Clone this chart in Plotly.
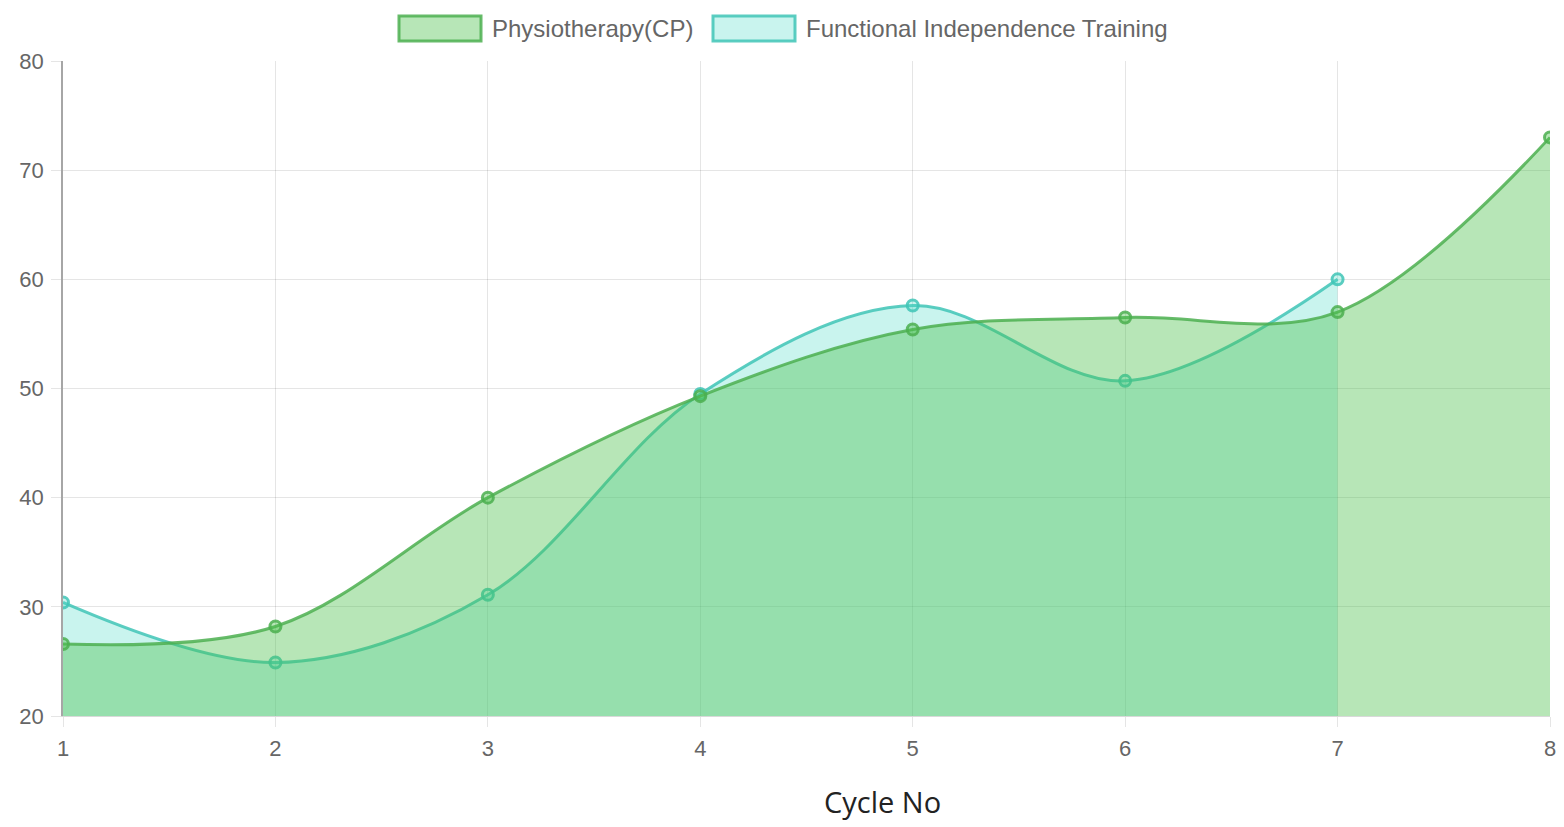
import plotly.graph_objects as go

cycles = [1, 2, 3, 4, 5, 6, 7, 8]
physio = [26.6, 28.2, 40.0, 49.3, 55.4, 56.5, 57.0, 73.0]
fit_cycles = [1, 2, 3, 4, 5, 6, 7]
fit = [30.4, 24.9, 31.1, 49.5, 57.6, 50.7, 60.0]

series_names = ["Physiotherapy(CP)", "Functional Independence Training"]
x_title = "Cycle No"

G_LINE = "rgba(76,175,80,0.85)"
G_FILL = "rgba(75,192,75,0.4)"
C_LINE = "rgba(64,196,182,0.85)"
C_FILL = "rgba(75,220,200,0.3)"

W, H = 1564, 827
# target plot area in window pixels: x 63..1550, y 61..716
PX0, PX1, PY0, PY1 = 63, 1550, 61, 716
L, R, T, B = PX0, W - PX1, PY0, H - PY1
PW, PH = W - L - R, H - T - B

fig = go.Figure()
fig.add_trace(go.Scatter(
    x=fit_cycles, y=fit, name=series_names[1], mode="lines+markers",
    line=dict(color=C_LINE, width=3, shape="spline", smoothing=1.0),
    fill="tozeroy", fillcolor=C_FILL,
    marker=dict(size=11, color=C_FILL, line=dict(color=C_LINE, width=3)),
    showlegend=False))
fig.add_trace(go.Scatter(
    x=cycles, y=physio, name=series_names[0], mode="lines+markers",
    line=dict(color=G_LINE, width=3, shape="spline", smoothing=1.0),
    fill="tozeroy", fillcolor=G_FILL,
    marker=dict(size=11, color=G_FILL, line=dict(color=G_LINE, width=3)),
    showlegend=False))

def px(xp):
    return (xp - PX0) / PW

def py(yp):
    return (PY1 - yp) / PH

shapes = []
annotations = []
legend_items = [(series_names[0], G_FILL, G_LINE, 399, 481, 492),
                (series_names[1], C_FILL, C_LINE, 713, 795, 806)]
for name, fc, lc, x0, x1, tx in legend_items:
    shapes.append(dict(type="rect", xref="paper", yref="paper",
                       x0=px(x0), x1=px(x1), y0=py(41), y1=py(16),
                       fillcolor=fc, line=dict(color=lc, width=3)))
    annotations.append(dict(text=name, xref="paper", yref="paper",
                            x=px(tx - 2), y=py(28.5), xanchor="left", yanchor="middle",
                            showarrow=False,
                            font=dict(family="Liberation Sans, Arial", size=24, color="#666")))

annotations.append(dict(text=x_title, xref="paper", yref="paper",
                        x=px(882), y=py(801), xanchor="center", yanchor="middle",
                        showarrow=False,
                        font=dict(family="Open Sans", size=29, color="#222")))

fig.update_layout(
    width=W, height=H,
    margin=dict(l=L, r=R, t=T, b=B, autoexpand=False),
    paper_bgcolor="white", plot_bgcolor="white",
    shapes=shapes, annotations=annotations,
    showlegend=False,
    font=dict(family="Liberation Sans, Arial", color="#666"),
)
fig.update_xaxes(
    range=[1, 8], tickvals=cycles, ticktext=[str(c) for c in cycles],
    showgrid=True, gridcolor="rgba(0,0,0,0.1)", gridwidth=1,
    ticks="outside", ticklen=10, tickcolor="rgba(0,0,0,0.1)",
    showline=True, linecolor="rgba(0,0,0,0.15)", linewidth=1,
    zeroline=False, tickfont=dict(size=22, color="#666"),
    ticklabelstandoff=3, ticklabeloverflow="allow", automargin=False,
)
fig.update_yaxes(
    range=[20, 80], tickvals=[20, 30, 40, 50, 60, 70, 80],
    showgrid=True, gridcolor="rgba(0,0,0,0.1)", gridwidth=1,
    ticks="outside", ticklen=10, tickcolor="rgba(0,0,0,0.1)",
    showline=True, linecolor="rgba(0,0,0,0.35)", linewidth=1.5,
    zeroline=False, tickfont=dict(size=22, color="#666"),
    ticklabelstandoff=3, automargin=False,
)

fig.write_html(
    "out.html",
    config={"displayModeBar": False},
    post_script="document.body.style.margin='0';document.body.style.overflow='hidden';",
)
